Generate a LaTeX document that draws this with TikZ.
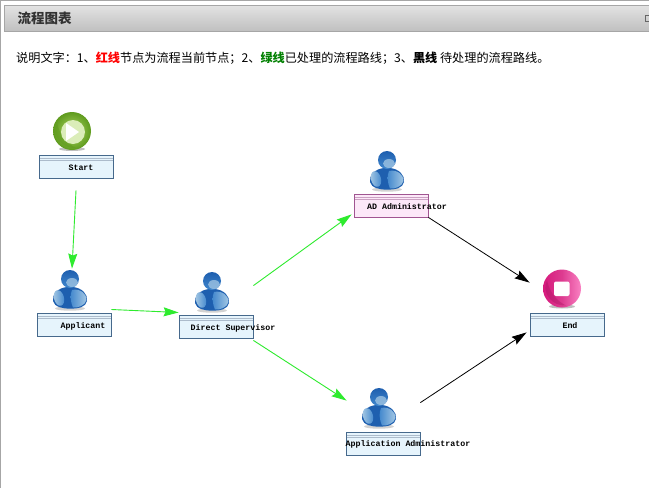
\documentclass[tikz,border=0pt]{standalone}
\usepackage{fontspec}
\setmainfont{Noto Sans CJK SC}
\setmonofont{Liberation Mono}
\usepackage{xcolor}
\definecolor{flowgreen}{RGB}{46,235,46}
\definecolor{flowblue}{RGB}{230,244,252}
\definecolor{flowedge}{RGB}{70,105,140}
\definecolor{flowpink}{RGB}{252,232,248}
\definecolor{flowplum}{RGB}{160,85,145}
\definecolor{userdeep}{RGB}{30,95,175}
\definecolor{usermid}{RGB}{65,135,205}
\definecolor{userpale}{RGB}{165,200,228}
\definecolor{ballgreen}{RGB}{95,155,30}
\definecolor{balllime}{RGB}{175,215,100}
\definecolor{balldeep}{RGB}{215,25,125}
\definecolor{ballrose}{RGB}{250,130,195}
\usetikzlibrary{arrows.meta,positioning,shapes.geometric,calc}

\begin{document}
\begin{tikzpicture}[x=1pt, y=-1pt,
  flowbox/.style={draw=flowedge, fill=flowblue, minimum width=74pt, minimum height=23pt, inner sep=0pt, line width=0.8pt,
    path picture={\draw[flowedge!45, line width=0.6pt] ([yshift=-3pt]path picture bounding box.north west) -- ([yshift=-3pt]path picture bounding box.north east);
      \draw[flowedge!45, line width=0.6pt] ([yshift=-5.5pt]path picture bounding box.north west) -- ([yshift=-5.5pt]path picture bounding box.north east);}},
  currentbox/.style={flowbox, draw=flowplum, fill=flowpink,
    path picture={\draw[flowplum!55, line width=0.6pt] ([yshift=-3pt]path picture bounding box.north west) -- ([yshift=-3pt]path picture bounding box.north east);
      \draw[flowplum!55, line width=0.6pt] ([yshift=-5.5pt]path picture bounding box.north west) -- ([yshift=-5.5pt]path picture bounding box.north east);}},
  flowlabel/.style={font=\ttfamily\bfseries\fontsize{8.3}{10}\selectfont, inner sep=0pt, text=black},
  doneline/.style={-{Stealth[length=15pt, width=9pt, inset=2pt]}, flowgreen, line width=0.9pt},
  todoline/.style={-{Stealth[length=15pt, width=9pt, inset=2pt]}, black, line width=0.8pt},
  usericon/.pic={
    \fill[gray!35] (0,18.5) ellipse (15 and 2.2);
    \fill[userdeep] (-3,-3) .. controls (-12,-2) and (-18,4) .. (-17,11) .. controls (-16,17) and (-6,19) .. (0,18.5) .. controls (8,19) and (16,17) .. (17,11) .. controls (18,4) and (12,-2) .. (3,-3) -- cycle;
    \shade[left color=userpale, right color=usermid, rotate around={15:(-11,8)}] (-11,8) ellipse (5 and 8);
    \shade[left color=usermid, right color=userpale] (2,0) .. controls (10,-2) and (17,4) .. (16.5,10) .. controls (15,16) and (7,18) .. (3,17.5) .. controls (0,10) and (0,5) .. (2,0) -- cycle;
    \shade[top color=userdeep, bottom color=usermid] (0,-11) ellipse (9 and 9);
    \fill[userpale, opacity=0.75] (2,-7.5) ellipse (6 and 4.5);
  },
  startball/.pic={
    \fill[gray!50] (0,18) ellipse (13 and 2);
    \shade[inner color=balllime, outer color=ballgreen] (0,0) circle (19);
    \fill[ballgreen, opacity=0.55] (-15,-8) .. controls (-21,4) and (-10,18) .. (4,17) .. controls (-6,12) and (-12,4) .. (-15,-8) -- cycle;
    \fill[balllime!45!white] (1,1) circle (12);
    \fill[white] (-6,-8) -- (7,1) -- (-6,10) -- cycle;
  },
  stopball/.pic={
    \fill[gray!50] (0,18) ellipse (13 and 2);
    \shade[left color=balldeep, right color=ballrose, middle color=balldeep!85!white] (0,0) circle (19);
    \fill[balldeep!75!black, opacity=0.35] (-15,-8) .. controls (-21,4) and (-10,18) .. (4,17) .. controls (-6,12) and (-12,4) .. (-15,-8) -- cycle;
    \fill[white, rounded corners=2pt] (-8,-7) rectangle (7.5,7.5);
  }]

\useasboundingbox (0,0) rectangle (649,488);
\fill[white] (0,0) rectangle (649,488);

% Panel frame and heading
\draw[gray!70, line width=1.5pt] (0.7,488) -- (0.7,0.7) -- (649,0.7);
\shade[top color=gray!22, bottom color=gray!50, draw=gray!70] (4.5,5) rectangle (652,31.5);
\node[font=\bfseries\fontsize{13.5}{15}\selectfont, text=black!80, anchor=west, inner sep=0pt] (heading) at (17.5,18) {流程图表};
\draw[gray!80!black, line width=0.7pt] (645.5,15.5) rectangle (652,21);
\node[font=\fontsize{12.15}{14}\selectfont, anchor=west, inner sep=0pt] (legend) at (16,58)
  {说明文字：1、{\bfseries\color{red}红线}节点为流程当前节点；2、{\bfseries\color{green!50!black}绿线}已处理的流程路线；3、{\bfseries 黑线} 待处理的流程路线。};

% Icons
\pic at (72,131) {startball};
\pic at (70,290) {usericon};
\pic at (212,292) {usericon};
\pic at (387,171) {usericon};
\pic at (379,408) {usericon};
\pic at (562,288.5) {stopball};

% Connectors
\node[flowbox] (start) at (76,166.5) {};
\node[flowbox] (applicant) at (74,324.5) {};
\node[flowbox] (supervisor) at (216,326.5) {};
\node[currentbox] (adadmin) at (391,205.5) {};
\node[flowbox] (appadmin) at (383,443.5) {};
\node[flowbox] (end) at (567,324.5) {};

\draw[doneline] ([yshift=-12pt]start.south) -- ([xshift=-2pt,yshift=44pt]applicant.north);
\draw[doneline] ([yshift=15pt]applicant.east) -- ([yshift=14pt]supervisor.west);
\draw[doneline] ([yshift=29pt]supervisor.north east) -- ([xshift=-2pt,yshift=3pt]adadmin.south west);
\draw[doneline] ([yshift=-2pt]supervisor.south east) -- ([xshift=1pt,yshift=31pt]appadmin.north west);
\draw[todoline] (adadmin.south east) -- ([yshift=30pt]end.north west);
\draw[todoline] ([yshift=29pt]appadmin.north east) -- ([xshift=-3pt,yshift=4pt]end.south west);

% Box labels
\node[flowlabel] (startlabel) at (81,168) {Start};
\node[flowlabel] (applicantlabel) at (83,326) {Applicant};
\node[flowlabel] (supervisorlabel) at (233,328) {Direct Supervisor};
\node[flowlabel] (adlabel) at (407,207) {AD Administrator};
\node[flowlabel] (applabel) at (408,444) {Application Administrator};
\node[flowlabel] (endlabel) at (570,326) {End};

\end{tikzpicture}
\end{document}
